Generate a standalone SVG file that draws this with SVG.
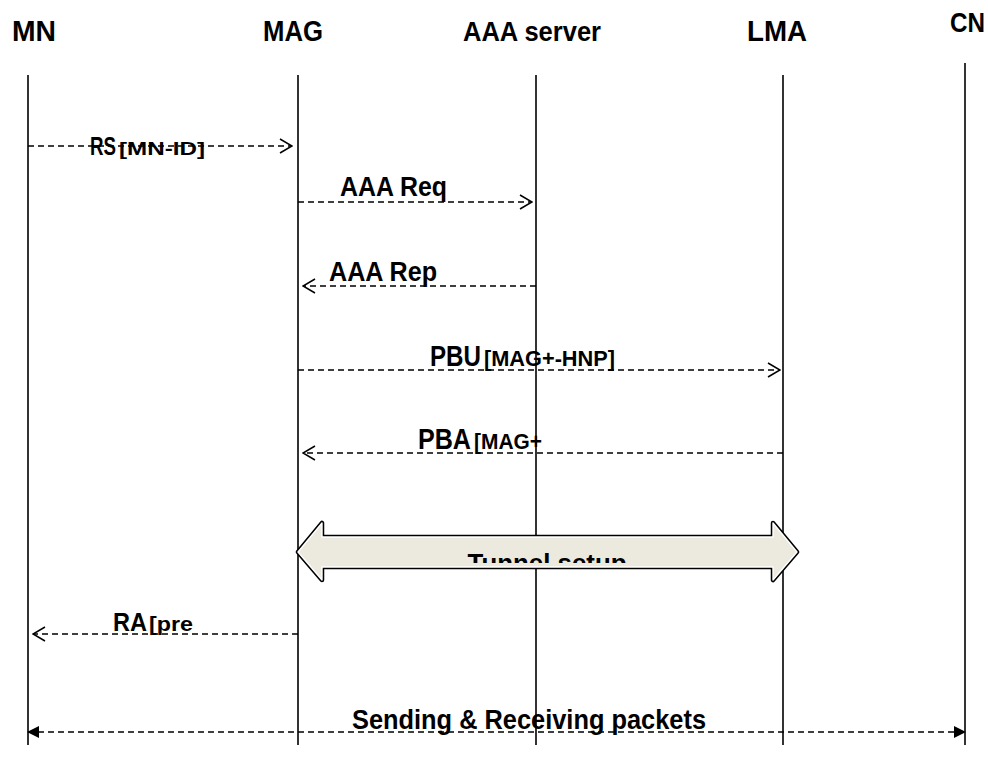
<svg xmlns="http://www.w3.org/2000/svg" width="988" height="773" viewBox="0 0 988 773">
  <style>
    .lbl { font-family: "Liberation Sans", Arial, sans-serif; font-weight: bold; fill: #000; }
    .life { stroke: #000; stroke-width: 1.6; fill: none; }
    .msg { stroke: #000; stroke-width: 1.5; fill: none; stroke-dasharray: 6 4; }
  </style>
  <defs>
    <marker id="openArrow" viewBox="0 0 14 16" refX="13" refY="8" markerWidth="14" markerHeight="16" markerUnits="userSpaceOnUse" orient="auto-start-reverse">
      <path d="M1 1 L13 8 L1 15" fill="none" stroke="#000" stroke-width="1.5"/>
    </marker>
    <marker id="solidArrow" viewBox="0 0 12 12" refX="11" refY="6" markerWidth="12" markerHeight="12" markerUnits="userSpaceOnUse" orient="auto-start-reverse">
      <path d="M0 0 L12 6 L0 12 Z" fill="#000"/>
    </marker>
    <clipPath id="tunnelClip">
      <rect x="300" y="530" width="490" height="33"/>
    </clipPath>
  </defs>
  <rect width="988" height="773" fill="#fff"/>

  <!-- entities with their lifelines -->
  <g id="MN">
    <text class="lbl" x="12" y="41" font-size="29" textLength="44" lengthAdjust="spacingAndGlyphs">MN</text>
    <line class="life" x1="28" y1="75" x2="28" y2="745"/>
  </g>
  <g id="MAG">
    <text class="lbl" x="263" y="41" font-size="29" textLength="60" lengthAdjust="spacingAndGlyphs">MAG</text>
    <line class="life" x1="298" y1="75" x2="298" y2="745"/>
  </g>
  <g id="AAA">
    <text class="lbl" x="463" y="41" font-size="28" textLength="138" lengthAdjust="spacingAndGlyphs">AAA server</text>
    <line class="life" x1="536" y1="75" x2="536" y2="745"/>
  </g>
  <g id="LMA">
    <text class="lbl" x="747" y="41" font-size="29" textLength="60" lengthAdjust="spacingAndGlyphs">LMA</text>
    <line class="life" x1="783" y1="75" x2="783" y2="745"/>
  </g>
  <g id="CN">
    <text class="lbl" x="950" y="32" font-size="27" textLength="35" lengthAdjust="spacingAndGlyphs">CN</text>
    <line class="life" x1="965" y1="63" x2="965" y2="745"/>
  </g>

  <!-- messages -->
  <g id="connectors">
    <line class="msg" x1="28" y1="146" x2="292" y2="146" marker-end="url(#openArrow)"/>
    <line class="msg" x1="298" y1="202" x2="532" y2="202" marker-end="url(#openArrow)"/>
    <line class="msg" x1="536" y1="286" x2="303" y2="286" marker-end="url(#openArrow)"/>
    <line class="msg" x1="298" y1="370" x2="780" y2="370" marker-end="url(#openArrow)"/>
    <line class="msg" x1="783" y1="453" x2="303" y2="453" marker-end="url(#openArrow)"/>
    <line class="msg" x1="298" y1="634" x2="33" y2="634" marker-end="url(#openArrow)"/>
    <line class="msg" x1="28" y1="732" x2="965" y2="732" marker-start="url(#solidArrow)" marker-end="url(#solidArrow)"/>
  </g>

  <!-- message labels -->
  <g id="labels">
    <text class="lbl" x="90" y="155" font-size="26" textLength="26" lengthAdjust="spacingAndGlyphs">RS</text>
    <text class="lbl" x="119" y="155" font-size="19" textLength="86" lengthAdjust="spacingAndGlyphs">[MN-ID]</text>
    <text class="lbl" x="340" y="196" font-size="27" textLength="107" lengthAdjust="spacingAndGlyphs">AAA Req</text>
    <text class="lbl" x="329" y="281" font-size="27" textLength="108" lengthAdjust="spacingAndGlyphs">AAA Rep</text>
    <text class="lbl" x="430" y="366" font-size="30" textLength="51" lengthAdjust="spacingAndGlyphs">PBU</text>
    <text class="lbl" x="484" y="366" font-size="22" textLength="131" lengthAdjust="spacingAndGlyphs">[MAG+-HNP]</text>
    <text class="lbl" x="418" y="449" font-size="29" textLength="53" lengthAdjust="spacingAndGlyphs">PBA</text>
    <text class="lbl" x="474" y="449" font-size="22" textLength="68" lengthAdjust="spacingAndGlyphs">[MAG+</text>
    <text class="lbl" x="113" y="631" font-size="25" textLength="34" lengthAdjust="spacingAndGlyphs">RA</text>
    <text class="lbl" x="149" y="631" font-size="21" textLength="44" lengthAdjust="spacingAndGlyphs">[pre</text>
    <text class="lbl" x="352" y="729" font-size="27" textLength="354" lengthAdjust="spacingAndGlyphs">Sending &amp; Receiving packets</text>
  </g>

  <!-- tunnel block arrow between MAG and LMA -->
  <g id="tunnel">
    <path d="M298 552 L322 523 L322 537 L773 537 L773 523 L797 552 L773 580 L773 567 L322 567 L322 580 Z" fill="#ECEADF" stroke="#000" stroke-width="4.5" stroke-linejoin="round"/>
    <path d="M298 552 L322 523 L322 537 L773 537 L773 523 L797 552 L773 580 L773 567 L322 567 L322 580 Z" fill="#ECEADF" stroke="#fff" stroke-width="1.4" stroke-linejoin="round"/>
    <text class="lbl" x="547" y="572" font-size="26" text-anchor="middle" textLength="159" lengthAdjust="spacingAndGlyphs" clip-path="url(#tunnelClip)">Tunnel setup</text>
  </g>
</svg>
